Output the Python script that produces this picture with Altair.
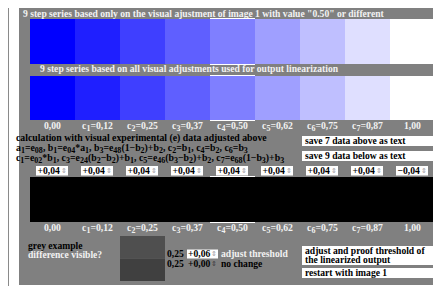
import altair as alt
import pandas as pd

# ---------------- data ----------------
steps = [0.0, 0.125, 0.25, 0.375, 0.5, 0.625, 0.75, 0.875, 1.0]
step_labels = ["0,00", "c₁=0,12", "c₂=0,25", "c₃=0,37", "c₄=0,50",
               "c₅=0,62", "c₆=0,75", "c₇=0,87", "1,00"]
row1_colors = ["#0000ff", "#1f1fff", "#3f3fff", "#5f5fff", "#7f7fff",
               "#9f9fff", "#bfbfff", "#dfdfff", "#ffffff"]
row2_colors = ["#0000ff", "#1f1fff", "#3f3fff", "#5f5fff", "#7f7fff",
               "#9f9fff", "#bfbfff", "#dfdfff", "#ffffff"]
row3_colors = ["#000000"] * 9
spin_values = ["+0,04"] * 8 + ["−0,04"]
titles = ['9 step series based only on the visual ajustment of image 1 with value "0.50" or different',
          "9 step series based on all visual adjustments used for output linearization"]
formula_lines = ["calculation with visual experimental (e) data adjusted above",
                 "a₁=e₀₈, b₁=e₀₄*a₁, b₃=e₄₈(1−b₂)+b₂, c₂=b₁, c₄=b₂, c₆=b₃",
                 "c₁=e₀₂*b₁, c₃=e₂₄(b₂−b₂)+b₁, c₅=e₄₆(b₃−b₂)+b₂, c₇=e₆₈(1−b₃)+b₃"]
buttons = ["save 7 data above as text", "save 9 data below as text",
           "adjust and proof threshold of", "the linearized output",
           "restart with image 1"]
grey_base = ["0,25", "0,25"]
grey_delta = ["+0,06", "+0,00"]
grey_notes = ["adjust threshold", "no change"]
grey_question = ["grey example", "difference visible?"]
grey_colors = ["#4f4f4f", "#404040"]

# ---------------- styling / layout (page pixel coordinates) ----------------
FONT = "Liberation Serif"
FS = 9.6
FS_BODY = 9.8
SUB_RATIO = 0.82
SUB_DROP = 2.1
LIGHT = "#f2f2f2"
PANEL = "#808080"
PW, PH = 441, 294            # whole page; padding -8 cancels the body margin
HALF = 1 / 16
PX_PER_STEP = 360            # swatch centre on the page = 52.5 + 360 * step
X0 = 52.5
XS = alt.Scale(domain=[-X0 / PX_PER_STEP, (PW - X0) / PX_PER_STEP], nice=False, zero=False)
one = pd.DataFrame({"k": [0]})

# Times-Bold advance widths (1/1000 em), for placing subscript runs
TW = {" ": 250, '"': 555, "(": 333, ")": 333, "*": 500, "+": 570, ",": 250,
      "-": 333, ".": 250, "=": 570, "−": 570, "?": 500,
      "a": 500, "b": 556, "c": 444, "d": 556, "e": 444, "f": 333, "g": 500,
      "h": 556, "i": 278, "j": 333, "k": 556, "l": 278, "m": 833, "n": 556,
      "o": 500, "p": 556, "q": 556, "r": 444, "s": 389, "t": 333, "u": 556,
      "v": 500, "w": 722, "x": 500, "y": 500, "z": 444}
SUBS = {"₀": "0", "₁": "1", "₂": "2", "₃": "3", "₄": "4",
        "₅": "5", "₆": "6", "₇": "7", "₈": "8", "₉": "9"}


def runs_of(s):
    runs = []
    for ch in s:
        sub = ch in SUBS
        c = SUBS.get(ch, ch)
        if runs and runs[-1][1] == sub:
            runs[-1][0] += c
        else:
            runs.append([c, sub])
    return runs


def width(t, size):
    return sum(TW.get(c, 500) for c in t) * size / 1000


def rich(strings, anchors_step, align, y, color, fs):
    """Text with real subscripts; anchors given in step units of the x scale."""
    sfs = fs * SUB_RATIO
    rows = []
    for s, a in zip(strings, anchors_step):
        runs = runs_of(s)
        ws = [width(t, sfs if sub else fs) for t, sub in runs]
        cur = a - (sum(ws) / 2 / PX_PER_STEP if align == "center" else 0)
        for (t, sub), w in zip(runs, ws):
            rows.append({"t": t, "sub": sub, "v": cur})
            cur += w / PX_PER_STEP
    base = alt.Chart(pd.DataFrame(rows))
    yb = y + fs * 0.34
    normal = base.transform_filter("!datum.sub").mark_text(
        align="left", baseline="alphabetic", font=FONT, fontWeight="bold",
        fontSize=fs, color=color
    ).encode(x=alt.X("v:Q", scale=XS, axis=None), y=alt.value(yb), text="t:N")
    subs = base.transform_filter("datum.sub").mark_text(
        align="left", baseline="alphabetic", font=FONT, fontWeight="bold",
        fontSize=sfs, color=color
    ).encode(x=alt.X("v:Q", scale=XS, axis=None), y=alt.value(yb + SUB_DROP), text="t:N")
    return [normal, subs]


def to_step(px):
    return (px - X0) / PX_PER_STEP


def txt(s, x, y, color=LIGHT, align="left", size=FS, font=FONT, weight="bold"):
    return alt.Chart(pd.DataFrame({"t": [s]})).mark_text(
        align=align, baseline="middle", font=font, fontWeight=weight,
        fontSize=size, color=color
    ).encode(x=alt.value(x), y=alt.value(y), text="t:N")


def box(x, x2, y, y2, color):
    return alt.Chart(one).mark_rect(color=color).encode(
        x=alt.value(x), x2=alt.value(x2), y=alt.value(y), y2=alt.value(y2))


def swatch_row(colors, y, y2):
    df = pd.DataFrame({"step": steps, "color": colors})
    return alt.Chart(df).transform_calculate(
        x0=f"datum.step - {HALF}", x1=f"datum.step + {HALF}"
    ).mark_rect().encode(
        x=alt.X("x0:Q", scale=XS, axis=None), x2="x1:Q",
        y=alt.value(y), y2=alt.value(y2),
        color=alt.Color("color:N", scale=None))


def frame_lines(y):
    df = pd.DataFrame({"step": steps})
    return alt.Chart(df).transform_filter("datum.step == 0.5").transform_calculate(
        x0=f"datum.step - {HALF}", x1=f"datum.step + {HALF}"
    ).mark_rule(color="white", strokeWidth=1).encode(
        x=alt.X("x0:Q", scale=XS, axis=None), x2="x1:Q", y=alt.value(y))


layers = []
# left frame line and grey panel
layers.append(alt.Chart(one).mark_rule(color="#8a8a8a").encode(
    x=alt.value(8.5), y=alt.value(0), y2=alt.value(PH)))
layers.append(box(19, PW, 8, 285, PANEL))

# titles
layers.append(txt(titles[0], 23, 14))
layers.append(txt(titles[1], 40, 69))

# swatch rows
layers.append(swatch_row(row1_colors, 19, 64))
layers.append(frame_lines(18.5))
layers.append(frame_lines(64.5))
layers.append(swatch_row(row2_colors, 76, 120))
layers.append(frame_lines(75.5))
layers.append(frame_lines(120.5))
layers += rich(step_labels, steps, "center", 126, LIGHT, 9.7)

# formula text
for i, line in enumerate(formula_lines):
    layers += rich([line], [to_step(16)], "left", 138 + 10 * i, "black", FS_BODY)

# save buttons
layers.append(box(302, PW, 136, 146, "white"))
layers.append(txt(buttons[0], 305, 141, color="black"))
layers.append(box(302, PW, 151, 161, "white"))
layers.append(txt(buttons[1], 305, 156, color="black"))

# spinner row
spin_df = pd.DataFrame({"step": steps, "val": spin_values})
spin = alt.Chart(spin_df).transform_calculate(
    b0="datum.step - 16.5/360", b1="datum.step + 15.5/360",
    t0="datum.step - 15/360", g0="datum.step + 11.5/360", glyph="'⇕'")
layers.append(spin.mark_rect(color="white").encode(
    x=alt.X("b0:Q", scale=XS, axis=None), x2="b1:Q",
    y=alt.value(166), y2=alt.value(175.5)))
layers.append(spin.mark_text(align="left", baseline="middle", font=FONT,
                             fontWeight="bold", fontSize=FS, color="black").encode(
    x=alt.X("t0:Q", scale=XS, axis=None), y=alt.value(171), text="val:N"))
layers.append(spin.mark_text(align="center", baseline="middle", font="DejaVu Sans",
                             fontSize=7, color="#9a9a9a").encode(
    x=alt.X("g0:Q", scale=XS, axis=None), y=alt.value(171), text="glyph:N"))

# black row
layers.append(swatch_row(row3_colors, 177, 222))
layers.append(frame_lines(176.5))
layers.append(frame_lines(222.5))
layers += rich(step_labels, steps, "center", 228, LIGHT, 9.7)

# grey example section
layers.append(txt(grey_question[0], 28, 245.5, color="black"))
layers.append(txt(grey_question[1], 28, 255, color=LIGHT))
layers.append(box(120, 165, 236, 258.5, grey_colors[0]))
layers.append(box(120, 165, 258.5, 281, grey_colors[1]))
layers.append(txt(grey_base[0], 167, 254, color="black"))
layers.append(box(187, 218, 249.5, 258.5, "white"))
layers.append(txt(grey_delta[0], 188, 254, color="black"))
layers.append(txt("⇕", 214, 254, color="#9a9a9a", align="center", size=7,
                  font="DejaVu Sans", weight="normal"))
layers.append(txt(grey_notes[0], 221, 254, color=LIGHT))
layers.append(txt(grey_base[1], 167, 263.5, color="black"))
layers.append(txt(grey_delta[1], 188, 263.5, color="black"))
layers.append(txt("⇕", 214, 263.5, color="#3a3a3a", align="center", size=7,
                  font="DejaVu Sans", weight="normal"))
layers.append(txt(grey_notes[1], 221, 263.5, color="black"))

# right buttons bottom
layers.append(box(302, PW, 246, 265, "white"))
layers.append(txt(buttons[2], 305, 250.5, color="black"))
layers.append(txt(buttons[3], 305, 259.5, color="black"))
layers.append(box(302, PW, 268, 278, "white"))
layers.append(txt(buttons[4], 305, 273, color="black"))

chart = alt.layer(*layers).properties(
    width=PW, height=PH,
    padding={"left": -8, "top": -8, "right": -8, "bottom": -8},
    autosize=alt.AutoSizeParams(type="none"),
    background="white",
).configure_view(strokeWidth=0)

chart.save("out.html", embed_options={"renderer": "svg", "actions": False})
